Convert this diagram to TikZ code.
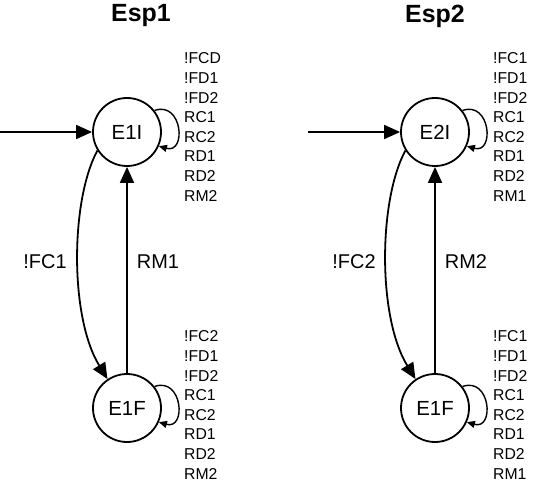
\documentclass[tikz,border=0pt]{standalone}
\usepackage{fontspec}
\setmainfont{Liberation Sans}
\usetikzlibrary{arrows.meta}
\begin{document}
\begin{tikzpicture}[x=1bp,y=-1bp,
  state/.style={circle,draw,line width=1.8bp,minimum size=68bp,inner sep=0pt,font=\fontsize{20.5}{24}\selectfont},
  bigarrow/.style={line width=1.8bp,-{Triangle[length=16bp,width=14bp]}},
  looparrow/.style={line width=1.4bp,-{Triangle[length=8bp,width=7bp]}},
  looplabel/.style={anchor=west,align=left,inner sep=0pt,font=\fontsize{15.8}{19.7}\selectfont},
  edgelabel/.style={inner sep=0pt,font=\fontsize{20}{24}\selectfont},
  title/.style={inner sep=0pt,font=\fontsize{25}{30}\selectfont\bfseries}]
\useasboundingbox (0,0) rectangle (540,488);
% Esp1
\node[title] (t1) at (141,16) {Esp1};
\node[state] (e1i) at (127,132) {E1I};
\node[state] (e1f) at (127,408) {E1F};
\coordinate (s1) at (0,132);
\draw[bigarrow] (s1) -- (e1i);
\draw[bigarrow] (e1i.212) .. controls +(-27,50) and +(-38,-62) .. (e1f.124);
\draw[bigarrow] (e1f) -- (e1i);
\draw[looparrow] (e1i.38) .. controls +(28,-10) and +(28,8) .. (e1i.-24);
\draw[looparrow] (e1f.38) .. controls +(28,-10) and +(28,8) .. (e1f.-24);
\node[edgelabel] (l1) at (45,262) {!FC1};
\node[edgelabel] (l2) at (158,262) {RM1};
\node[looplabel] (b1) at (184,127) {!FCD\\!FD1\\!FD2\\RC1\\RC2\\RD1\\RD2\\RM2};
\node[looplabel] (b2) at (184,405) {!FC2\\!FD1\\!FD2\\RC1\\RC2\\RD1\\RD2\\RM2};
% Esp2
\node[title] (t2) at (435,16) {Esp2};
\node[state] (e2i) at (435,132) {E2I};
\node[state] (e2f) at (435,408) {E1F};
\coordinate (s2) at (308,132);
\draw[bigarrow] (s2) -- (e2i);
\draw[bigarrow] (e2i.212) .. controls +(-27,50) and +(-38,-62) .. (e2f.124);
\draw[bigarrow] (e2f) -- (e2i);
\draw[looparrow] (e2i.38) .. controls +(28,-10) and +(28,8) .. (e2i.-24);
\draw[looparrow] (e2f.38) .. controls +(28,-10) and +(28,8) .. (e2f.-24);
\node[edgelabel] (l3) at (354,262) {!FC2};
\node[edgelabel] (l4) at (466,262) {RM2};
\node[looplabel] (b3) at (493,127) {!FC1\\!FD1\\!FD2\\RC1\\RC2\\RD1\\RD2\\RM1};
\node[looplabel] (b4) at (493,405) {!FC1\\!FD1\\!FD2\\RC1\\RC2\\RD1\\RD2\\RM1};
\end{tikzpicture}
\end{document}
